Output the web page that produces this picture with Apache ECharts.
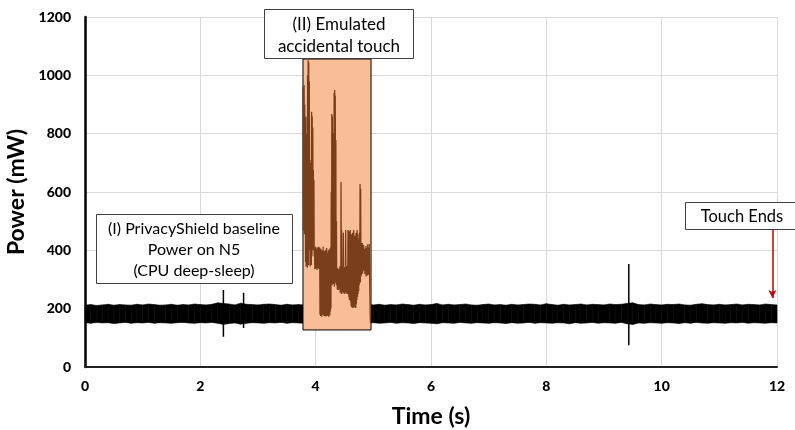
<!DOCTYPE html>
<html><head><meta charset="utf-8">
<script src="https://cdn.jsdelivr.net/npm/echarts@6/dist/echarts.min.js"></script>
<style>html,body{margin:0;padding:0;background:#fff}#c{width:795px;height:430px}</style>
</head><body><div id="c"></div>
<script>
// ---- data ----
const xTicks = [0, 2, 4, 6, 8, 10, 12];
const yTicks = [0, 200, 400, 600, 800, 1000, 1200];
const bandStep = 0.1; // sampling step of the baseline envelope (s)
const bandUpper = [
212,214,211,213,215,212,214,213,212,215,
213,216,214,212,213,215,212,214,213,216,
214,213,215,220,218,216,213,219,215,214,
213,215,216,214,212,215,213,214,213,212,
212,213,214,213,212,214,213,212,213,214,
213,215,212,214,213,216,214,212,215,213,
214,218,213,215,213,214,216,213,212,214,
216,213,214,212,215,213,214,216,215,213,
217,214,212,215,213,214,216,213,215,214,
213,216,214,215,218,220,214,213,216,214,
213,215,214,216,213,212,215,217,214,213,
215,213,214,216,213,215,214,213,216,214,
213];
const bandLower = [
152,150,153,151,152,149,151,153,150,152,
151,153,150,152,151,150,152,153,151,150,
152,151,153,150,146,149,151,147,150,152,
151,150,152,151,153,150,152,151,150,152,
151,152,150,151,152,150,151,152,150,151,
152,150,151,153,150,152,151,149,152,151,
150,148,152,151,150,153,151,150,152,151,
150,152,151,149,152,150,151,153,150,152,
151,150,152,151,148,152,150,151,153,150,
152,151,150,153,148,146,151,150,152,151,
150,152,151,149,152,150,153,151,150,152,
151,150,152,151,153,150,152,151,150,152,
151];
// spikes: [time, low, high]
const spikes = [[2.40, 104, 264], [2.75, 134, 255], [9.43, 75, 353]];
// touch window: [tStart, tEnd, pLow, pHigh]
const touchWindow = [3.78, 4.96, 127, 1056];
// power trace during touch, sampled every traceStep s from traceStart (mW)
const traceStart = 3.78;
const traceStep = 0.005;
const traceValues = [
960,470,940,500,967,455,900,480,
850,360,858,345,800,380,
700,340,1000,360,1052,350,1045,400,980,420,
710,345,690,360,700,350,
875,380,860,400,820,
420,675,400,640,380,
410,335,400,340,412,338,395,345,405,333,410,340,398,350,412,336,400,342,
410,180,395,175,405,190,380,172,400,185,390,178,412,182,370,175,398,180,385,173,
402,186,375,174,408,179,392,176,360,184,400,172,388,181,405,177,395,190,410,200,
600,290,867,280,860,300,802,285,790,290,940,275,950,290,930,300,778,285,500,280,
340,265,330,270,338,264,325,272,335,268,
345,255,340,260,634,250,470,258,335,262,345,252,460,255,338,260,342,250,330,256,470,262,340,252,345,258,335,250,
470,260,450,240,465,230,440,255,470,225,
430,210,455,205,420,215,460,202,440,208,
470,204,425,212,450,206,435,202,460,215,
445,230,470,240,455,250,440,260,430,280,
460,300,627,290,610,310,425,
315,420,340,425,320,380,350,418,330,400,360,405,318,370,340,415,310,390,350,408,
314,420,345,380,316,410,340,422,315,260,180,150];
// "Touch Ends" arrow: [time, from mW, to mW]
const touchEndArrow = [11.92, 470, 237];
const labels = {
  x: 'Time (s)', y: 'Power (mW)',
  base: '(I) PrivacyShield baseline\nPower on N5\n(CPU deep-sleep)',
  touch: '(II) Emulated\naccidental touch',
  end: 'Touch Ends'
};

// ---- build ----
const F = 'Lato, "Open Sans", sans-serif';
const bandData = bandLower.map((v, i) => [+(i * bandStep).toFixed(2), v, bandUpper[i]]);
const traceData = traceValues.map((v, i) => [+(traceStart + i * traceStep).toFixed(3), v]);

const series = [];
series.push({
  type: 'custom', z: 1, silent: true, data: bandData,
  renderItem: (params, api) => {
    const i = params.dataIndex;
    if (i >= bandData.length - 1) return null;
    const a = bandData[i], b = bandData[i + 1];
    const pts = [api.coord([a[0], a[1]]), api.coord([b[0], b[1]]), api.coord([b[0], b[2]]), api.coord([a[0], a[2]])];
    return { type: 'polygon', shape: { points: pts }, style: { fill: '#000', stroke: '#000', lineWidth: 0.6 } };
  }
});
spikes.forEach(s => series.push({
  type: 'line', data: [[s[0], s[1]], [s[0], s[2]]], symbol: 'none', z: 1,
  lineStyle: { width: 1.5, color: '#000' }, silent: true
}));
series.push({
  type: 'custom', z: 2, silent: true,
  data: [touchWindow],
  renderItem: (params, api) => {
    const p1 = api.coord([api.value(0), api.value(3)]);
    const p2 = api.coord([api.value(1), api.value(2)]);
    return { type: 'rect', shape: { x: p1[0], y: p1[1], width: p2[0] - p1[0], height: p2[1] - p1[1] },
      style: { fill: '#F7BE97', stroke: '#000', lineWidth: 1 } };
  }
});
series.push({
  type: 'line', data: traceData, symbol: 'none', z: 3, silent: true,
  lineStyle: { width: 1.3, color: '#7A3E1B' },
  markLine: {
    silent: true, symbol: ['none', 'arrow'], symbolSize: [6, 8], label: { show: false },
    lineStyle: { color: '#C00000', width: 1.5, type: 'solid' },
    data: [[{ coord: [touchEndArrow[0], touchEndArrow[1]] }, { coord: [touchEndArrow[0], touchEndArrow[2]] }]]
  }
});

const chart = echarts.init(document.getElementById('c'), null, { renderer: 'canvas' });
chart.setOption({
  animation: false,
  backgroundColor: '#fff',
  grid: { left: 85, right: 18, top: 17, bottom: 63, containLabel: false, outerBoundsMode: 'none' },
  xAxis: {
    type: 'value', min: xTicks[0], max: xTicks[xTicks.length - 1], interval: 2,
    name: labels.x, nameLocation: 'middle', nameGap: 38,
    nameTextStyle: { fontFamily: F, fontWeight: 'bold', fontSize: 23, color: '#000' },
    axisLine: { show: true, onZero: false, lineStyle: { color: '#222', width: 2 } },
    axisTick: { show: false },
    axisLabel: { fontFamily: F, fontWeight: 900, fontSize: 14, color: '#000', margin: 12, formatter: v => String(v) },
    splitLine: { show: true, lineStyle: { color: '#d9d9d9', width: 1 } }
  },
  yAxis: {
    type: 'value', min: yTicks[0], max: yTicks[yTicks.length - 1], interval: 200,
    name: labels.y, nameLocation: 'middle', nameGap: 43,
    nameTextStyle: { fontFamily: F, fontWeight: 'bold', fontSize: 23, color: '#000' },
    axisLine: { show: true, lineStyle: { color: '#000', width: 2.5 } },
    axisTick: { show: false },
    axisLabel: { fontFamily: F, fontWeight: 900, fontSize: 14, color: '#000', margin: 14, formatter: v => String(v) },
    splitLine: { show: true, lineStyle: { color: '#d9d9d9', width: 1 } }
  },
  graphic: [
    { type: 'rect', shape: { x: 96.5, y: 214.5, width: 196, height: 69 }, style: { fill: '#fff', stroke: '#404040', lineWidth: 1 }, z: 100 },
    { type: 'text', x: 194, y: 250, z: 101, style: { text: labels.base, fontFamily: F, fontSize: 16, lineHeight: 21, fill: '#000', align: 'center', verticalAlign: 'middle' } },
    { type: 'rect', shape: { x: 264.5, y: 9.5, width: 149, height: 49 }, style: { fill: '#fff', stroke: '#404040', lineWidth: 1 }, z: 100 },
    { type: 'text', x: 339, y: 36, z: 101, style: { text: labels.touch, fontFamily: F, fontSize: 17, lineHeight: 22, fill: '#000', align: 'center', verticalAlign: 'middle' } },
    { type: 'rect', shape: { x: 685.5, y: 202.5, width: 120, height: 27 }, style: { fill: '#fff', stroke: '#404040', lineWidth: 1 }, z: 100 },
    { type: 'text', x: 742, y: 216.5, z: 101, style: { text: labels.end, fontFamily: F, fontSize: 16.5, fill: '#000', align: 'center', verticalAlign: 'middle' } }
  ],
  series: series
});
</script></body></html>
